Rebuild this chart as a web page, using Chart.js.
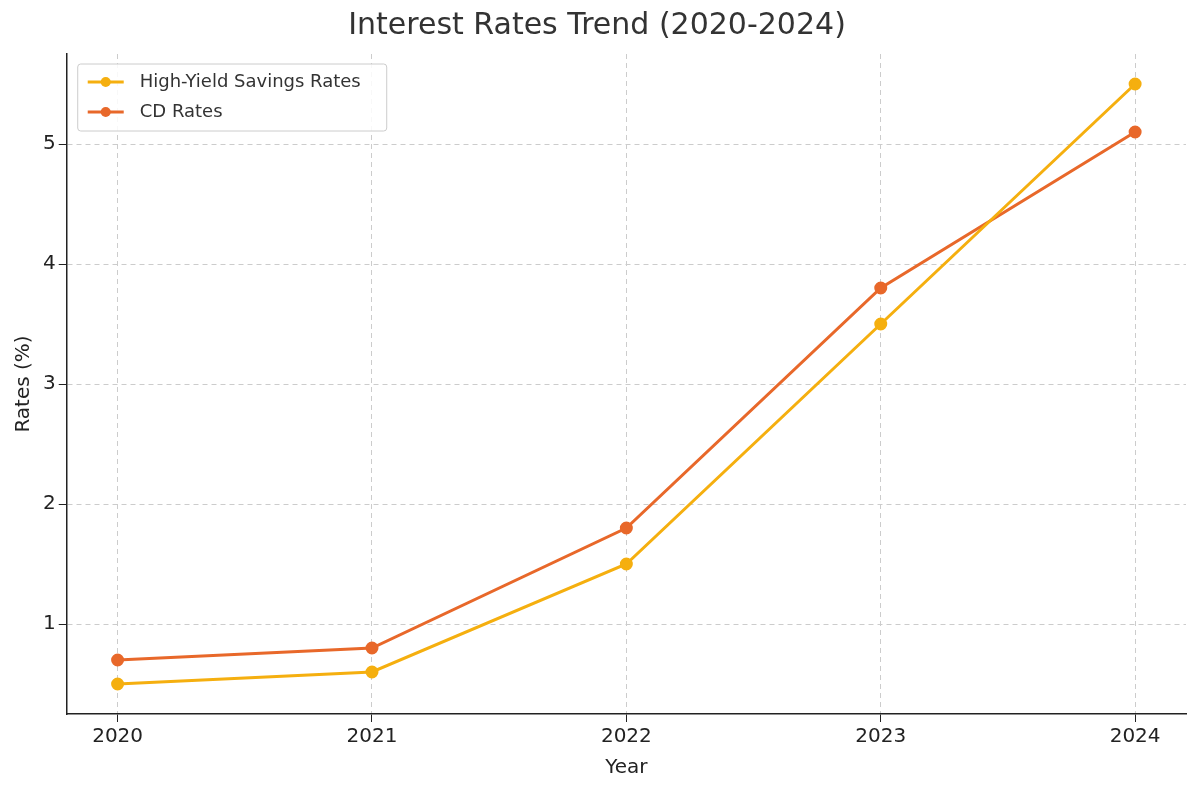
<!DOCTYPE html>
<html>
<head>
<meta charset="UTF-8">
<style>
  body { margin: 0; background: #fff; }
  #wrap { width: 1200px; height: 794px; }
</style>
<script src="https://cdn.jsdelivr.net/npm/chart.js"></script>
</head>
<body>
<div id="wrap"><canvas id="c" width="1200" height="794"></canvas></div>
<script>
const years = [2020, 2021, 2022, 2023, 2024];
const savingsRates = [0.5, 0.6, 1.5, 3.5, 5.5];
const cdRates = [0.7, 0.8, 1.8, 3.8, 5.1];
const yTicks = [1, 2, 3, 4, 5];

const toPoints = arr => arr.map((v, i) => ({ x: years[i], y: v }));
const font = 'DejaVu Sans';

// legend drawn inside the plot area, top-left
const insideLegend = {
  id: 'insideLegend',
  afterDraw(chart) {
    const ctx = chart.ctx, a = chart.chartArea;
    const x = a.left + 11, y = a.top + 10;
    ctx.save();
    ctx.font = '18px ' + font;
    const w = Math.max(...chart.data.datasets.map(d => ctx.measureText(d.label).width)) + 88;
    ctx.fillStyle = 'rgba(255,255,255,0.85)';
    ctx.strokeStyle = '#ccc';
    ctx.lineWidth = 1;
    ctx.beginPath();
    ctx.roundRect(x, y, w, 67, 3);
    ctx.fill(); ctx.stroke();
    chart.data.datasets.forEach((d, i) => {
      const cy = y + 18 + i * 30;
      ctx.strokeStyle = d.borderColor; ctx.lineWidth = 3;
      ctx.beginPath(); ctx.moveTo(x + 10, cy); ctx.lineTo(x + 46, cy); ctx.stroke();
      ctx.fillStyle = d.borderColor;
      ctx.beginPath(); ctx.arc(x + 28, cy, 5, 0, Math.PI * 2); ctx.fill();
      ctx.fillStyle = '#333'; ctx.textBaseline = 'middle';
      ctx.fillText(d.label, x + 62, cy);
    });
    ctx.restore();
  }
};

new Chart(document.getElementById('c'), {
  type: 'line',
  data: {
    datasets: [
      { label: 'High-Yield Savings Rates', data: toPoints(savingsRates), borderColor: '#F5AF0F', backgroundColor: '#F5AF0F', borderWidth: 3, pointRadius: 5, pointHoverRadius: 5 },
      { label: 'CD Rates', data: toPoints(cdRates), borderColor: '#E8682A', backgroundColor: '#E8682A', borderWidth: 3, pointRadius: 5, pointHoverRadius: 5 }
    ]
  },
  plugins: [insideLegend],
  options: {
    responsive: false,
    animation: false,
    layout: { padding: { left: 8, right: 14, top: 0, bottom: 10 } },
    plugins: {
      title: { display: true, text: 'Interest Rates Trend (2020-2024)', color: '#333', font: { family: font, size: 30, weight: 'normal' }, padding: { top: 8, bottom: 10 } },
      legend: { display: false },
      tooltip: { enabled: false }
    },
    scales: {
      x: {
        type: 'linear', min: 2019.8, max: 2024.2,
        afterBuildTicks: s => { s.ticks = years.map(v => ({ value: v })); },
        ticks: { color: '#222', font: { family: font, size: 20 }, callback: v => String(v) },
        grid: { color: '#ccc', tickColor: '#222', tickLength: 8 },
        border: { color: '#222', width: 1.5, dash: [5, 4] },
        title: { display: true, text: 'Year', color: '#222', font: { family: font, size: 20 } }
      },
      y: {
        min: 0.25, max: 5.75,
        afterBuildTicks: s => { s.ticks = yTicks.map(v => ({ value: v })); },
        ticks: { color: '#222', font: { family: font, size: 20 } },
        grid: { color: '#ccc', tickColor: '#222', tickLength: 8 },
        border: { color: '#222', width: 1.5, dash: [5, 4] },
        title: { display: true, text: 'Rates (%)', color: '#222', font: { family: font, size: 20 } }
      }
    }
  }
});
</script>
</body>
</html>
